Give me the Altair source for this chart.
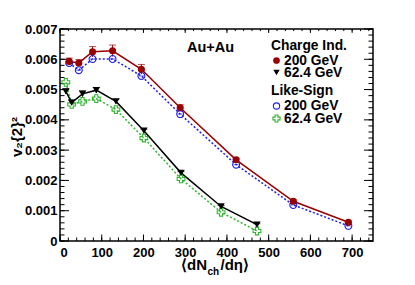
import altair as alt
import pandas as pd

# ---- data ----
x200 = [22, 45, 78, 126, 195, 288, 422, 559, 691]
ci200 = [0.00593, 0.00588, 0.00625, 0.00628, 0.00567, 0.00440, 0.00268, 0.00131, 0.00062]
ci200_err = [0.00011, 0.00011, 0.00017, 0.00019, 0.00016, 0.00010, 0.00006, 0.00005, 0.00004]
ls200 = [0.00588, 0.00564, 0.00601, 0.00601, 0.00545, 0.00419, 0.00252, 0.00119, 0.00050]

x62 = [14, 28, 54, 87, 134, 201, 290, 386, 472]
ci62 = [0.00494, 0.00457, 0.00486, 0.00498, 0.00461, 0.00364, 0.00225, 0.00114, 0.00054]
ci62_err = [0.00008, 0.00008, 0.00009, 0.00009, 0.00007, 0.00005, 0.00004, 0.00003, 0.00003]
ls62 = [0.00524, 0.00451, 0.00461, 0.00470, 0.00434, 0.00340, 0.00205, 0.00095, 0.00033]

x_major = [0, 100, 200, 300, 400, 500, 600, 700]
x_minor = list(range(0, 741, 20))
y_major = [0, 0.001, 0.002, 0.003, 0.004, 0.005, 0.006, 0.007]
y_minor = [i * 0.0002 for i in range(0, 36)]

RED = "#990000"
BLUE = "#1f1fe6"
BLACK = "#000000"
GREEN = "#2fb52f"

W, H = 313, 212
FONT = "Liberation Sans"

xs = alt.Scale(domain=[0, 750], nice=False, zero=False)
ys = alt.Scale(domain=[0, 0.007], nice=False, zero=False)

xaxis = alt.Axis(values=x_major, ticks=False, domain=False, grid=False, title=None,
                 labelFont=FONT, labelFontWeight="bold", labelFontSize=13,
                 labelPadding=5, labelColor="black", format="d", labelOverlap=False)
yaxis = alt.Axis(values=y_major, ticks=False, domain=False, grid=False, title=None,
                 labelFont=FONT, labelFontWeight="bold", labelFontSize=13,
                 labelPadding=3, labelColor="black", labelOverlap=False,
                 labelExpr="datum.value == 0 ? '0' : format(datum.value, '.3f')")


def XX(f):
    return alt.X(f, scale=xs, axis=xaxis)


def YY(f):
    return alt.Y(f, scale=ys, axis=yaxis)


def series(xv, yv, err=None):
    d = pd.DataFrame({"x": xv, "y": yv})
    if err is not None:
        d["lo"] = [a - b for a, b in zip(yv, err)]
        d["hi"] = [a + b for a, b in zip(yv, err)]
    return d


d_ci200 = series(x200, ci200, ci200_err)
d_ls200 = series(x200, ls200)
d_ci62 = series(x62, ci62, ci62_err)
d_ls62 = series(x62, ls62)


def line(d, color, dash=None):
    kw = dict(color=color, strokeWidth=1.5)
    if dash:
        kw["strokeDash"] = dash
    return alt.Chart(d).mark_line(**kw).encode(x=XX("x:Q"), y=YY("y:Q"))


def errs(d, color):
    bar = alt.Chart(d).mark_rule(color=color, strokeWidth=1).encode(
        x=XX("x:Q"), y=YY("lo:Q"), y2="hi:Q")
    cap = alt.Chart(d).mark_tick(color=color, orient="horizontal", size=7, thickness=1).encode(
        x=XX("x:Q"), y=YY("hi:Q"))
    return [bar, cap]


def yticks(vals, L):
    d = pd.DataFrame({"v": vals})
    left = alt.Chart(d).mark_rule(color="black", strokeWidth=1).encode(
        y=YY("v:Q"), x=alt.value(0), x2=alt.value(L))
    right = alt.Chart(d).mark_rule(color="black", strokeWidth=1).encode(
        y=YY("v:Q"), x=alt.value(W - L), x2=alt.value(W))
    return [left, right]


def xticks(vals, L):
    d = pd.DataFrame({"v": vals})
    bot = alt.Chart(d).mark_rule(color="black", strokeWidth=1).encode(
        x=XX("v:Q"), y=alt.value(H), y2=alt.value(H - L))
    top = alt.Chart(d).mark_rule(color="black", strokeWidth=1).encode(
        x=XX("v:Q"), y=alt.value(0), y2=alt.value(L * 0.6))
    return [bot, top]


def pts(d, shape, color, filled, size):
    return alt.Chart(d).mark_point(shape=shape, filled=filled, color=color, size=size,
                                   opacity=1, strokeWidth=1.1).encode(x=XX("x:Q"), y=YY("y:Q"))


layers = []
layers += yticks(y_minor, 4.5) + yticks(y_major, 9) + xticks(x_minor, 3.5) + xticks(x_major, 6.5)
layers += [
    line(d_ls200, BLUE, [2, 2]),
    line(d_ls62, GREEN, [2, 2]),
    line(d_ci200, RED),
    line(d_ci62, BLACK),
]
layers += errs(d_ci200, RED) + errs(d_ci62, BLACK)
layers += [
    pts(d_ls200, "circle", BLUE, False, 48),
    alt.Chart(d_ls200).mark_tick(orient="horizontal", color=BLUE, size=5, thickness=1).encode(
        x=XX("x:Q"), y=YY("y:Q")),
    pts(d_ls62, "cross", GREEN, False, 60),
    pts(d_ci200, "circle", RED, True, 50),
    pts(d_ci62, "triangle-down", BLACK, True, 55),
]

one = pd.DataFrame({"a": [0]})


def txt(s, px, py, size=14, align="left", baseline="middle", angle=None, weight="bold"):
    kw = dict(text=s, font=FONT, fontSize=size, fontWeight=weight, align=align,
              baseline=baseline, color="black")
    if angle is not None:
        kw["angle"] = angle
    return alt.Chart(one).mark_text(**kw).encode(x=alt.value(px), y=alt.value(py))


def mk(px, py, shape, color, filled, size):
    return alt.Chart(one).mark_point(shape=shape, filled=filled, color=color, size=size,
                                     opacity=1, strokeWidth=1.1).encode(
        x=alt.value(px), y=alt.value(py))


# plot-area coordinates = page coords - (60, 29)
layers += [
    txt("Au+Au", 127, 18.5, size=14.5),
    txt("Charge Ind.", 211, 17, size=13.8),
    mk(216.5, 31.5, "circle", RED, True, 45),
    txt("200 GeV", 224, 31.5, size=13.8),
    mk(216.5, 43.5, "triangle-down", BLACK, True, 40),
    txt("62.4 GeV", 224, 43.5, size=13.8),
    txt("Like-Sign", 211, 61.5, size=13.8),
    mk(216.5, 77, "circle", BLUE, False, 40),
    txt("200 GeV", 224, 77, size=13.8),
    mk(216.5, 89.5, "cross", GREEN, False, 50),
    txt("62.4 GeV", 224, 89.5, size=13.8),
    # axis titles
    txt("v₂{2}²", -43, 108, size=15, align="center", angle=270),
    txt("⟨dN", 147, 241, size=15, align="right", baseline="alphabetic"),
    txt("ch", 147.5, 246, size=10, align="left", baseline="alphabetic"),
    txt("/dη⟩", 160.5, 241, size=15, align="left", baseline="alphabetic"),
]

chart = alt.layer(*layers).properties(
    width=W, height=H,
    autosize=alt.AutoSizeParams(type="none"),
    padding={"left": 52, "top": 21, "right": 34, "bottom": 36},
    background="white",
).configure_view(stroke="black", strokeWidth=1.5).configure_axis(labelOverlap=False)

chart.save("out.html", embed_options={"renderer": "svg", "actions": False})
